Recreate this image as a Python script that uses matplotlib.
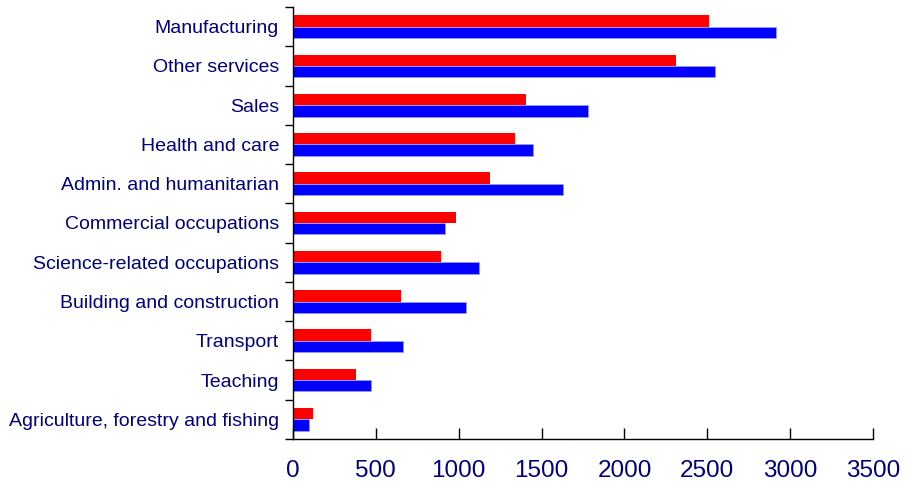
import numpy as np
import matplotlib
matplotlib.use('Agg')
import matplotlib.pyplot as plt

categories = ['Manufacturing', 'Other services', 'Sales', 'Health and care',
              'Admin. and humanitarian', 'Commercial occupations',
              'Science-related occupations', 'Building and construction',
              'Transport', 'Teaching', 'Agriculture, forestry and fishing']
red_values = [2513, 2312, 1408, 1341, 1191, 983, 894, 650, 469, 380, 122]
blue_values = [2914, 2544, 1779, 1446, 1628, 918, 1121, 1045, 665, 469, 96]
x_ticks = [0, 500, 1000, 1500, 2000, 2500, 3000, 3500]

plt.rcParams['font.family'] = ['Liberation Sans', 'DejaVu Sans']
navy = '#000080'

fig = plt.figure(figsize=(9.06, 4.95), dpi=100)
ax = fig.add_axes([0.3234, 0.1131, 0.6402, 0.8728])

n = len(categories)
y = np.arange(n)[::-1]
h = 0.29
ax.barh(y + h / 2, red_values, height=h, color='#ff0000', linewidth=0)
ax.barh(y - h / 2, blue_values, height=h, color='#0000ff',
        edgecolor='#9a9aff', linewidth=0.6)

ax.set_xlim(0, 3500)
ax.set_ylim(-0.5, n - 0.5)

ax.set_yticks(y)
ax.set_yticklabels(categories, color=navy, fontsize=14)
ax.set_yticks(np.arange(n + 1) - 0.5, minor=True)
ax.tick_params(axis='y', which='major', length=0, pad=10)
ax.tick_params(axis='y', which='minor', length=6, width=1, direction='out')

ax.set_xticks(x_ticks)
ax.set_xticklabels([str(t) for t in x_ticks], color=navy, fontsize=17.5)
ax.tick_params(axis='x', direction='in', length=8, width=1, pad=15)

for side in ['top', 'right']:
    ax.spines[side].set_visible(False)
for side in ['left', 'bottom']:
    ax.spines[side].set_linewidth(1)

fig.savefig('out.png', dpi=100)
